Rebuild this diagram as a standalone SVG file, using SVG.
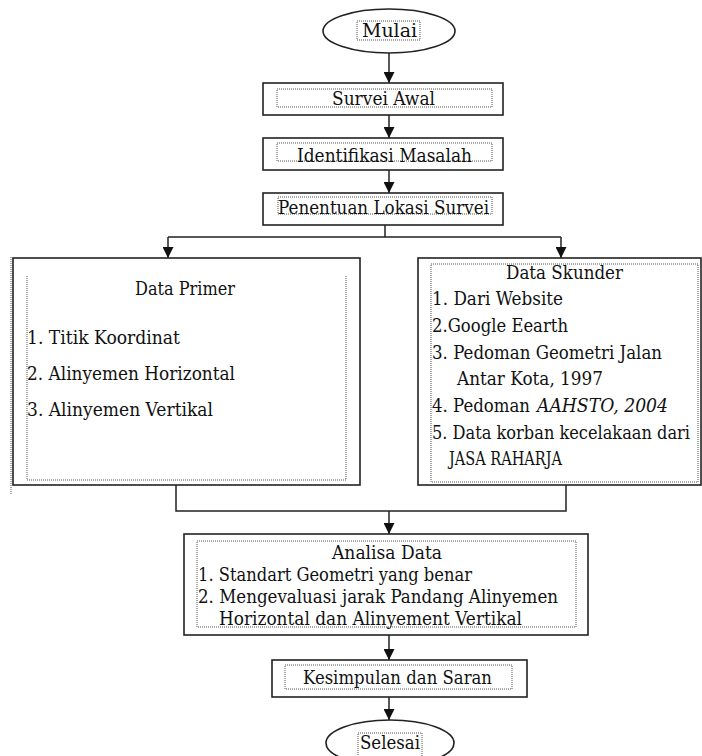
<svg xmlns="http://www.w3.org/2000/svg" width="702" height="756" viewBox="0 0 702 756">
<style>
.box{fill:#fff;stroke:#222;stroke-width:1.6}
.dot{fill:none;stroke:#555;stroke-width:1;stroke-dasharray:1 1}
.ln{fill:none;stroke:#222;stroke-width:1.5}
.t text{font-family:'DejaVu Serif','Liberation Serif',serif;font-size:19px;fill:#111}
.c{text-anchor:middle}
</style>
<defs>
<marker id="ah" viewBox="0 0 10 10" refX="10" refY="5" markerWidth="11" markerHeight="11" markerUnits="userSpaceOnUse" orient="auto">
<path d="M0,0 L10,5 L0,10 z" fill="#111"/>
</marker>
</defs>
<rect width="702" height="756" fill="#fff"/>
<g id="connectors">
<path class="ln" d="M389,53 V83" marker-end="url(#ah)"/>
<path class="ln" d="M389,115 V138" marker-end="url(#ah)"/>
<path class="ln" d="M389,170 V193" marker-end="url(#ah)"/>
<path class="ln" d="M385,225 V237 M168,237 H561"/>
<path class="ln" d="M168,237 V258" marker-end="url(#ah)"/>
<path class="ln" d="M561,237 V258" marker-end="url(#ah)"/>
<path class="ln" d="M176,485 V511 H566 V485"/>
<path class="ln" d="M389,511 V534" marker-end="url(#ah)"/>
<path class="ln" d="M389,635 V660" marker-end="url(#ah)"/>
<path class="ln" d="M389,697 V720" marker-end="url(#ah)"/>
</g>
<g id="mulai" class="t">
<ellipse class="box" cx="389" cy="31" rx="66" ry="22"/>
<rect class="dot" x="357" y="21" width="63" height="19"/>
<text class="c" x="389.5" y="37" textLength="55" lengthAdjust="spacingAndGlyphs">Mulai</text>
</g>
<g id="survei-awal" class="t">
<rect class="box" x="263" y="83" width="240" height="32"/>
<rect class="dot" x="277" y="89" width="215" height="18"/>
<text class="c" x="383.5" y="105" textLength="103" lengthAdjust="spacingAndGlyphs">Survei Awal</text>
</g>
<g id="identifikasi" class="t">
<rect class="box" x="263" y="138" width="240" height="32"/>
<rect class="dot" x="277" y="143" width="215" height="18"/>
<text class="c" x="384.5" y="162" textLength="175" lengthAdjust="spacingAndGlyphs">Identifikasi Masalah</text>
</g>
<g id="penentuan" class="t">
<rect class="box" x="263" y="193" width="240" height="32"/>
<rect class="dot" x="278" y="197" width="214" height="17"/>
<text class="c" x="383.5" y="214" textLength="211" lengthAdjust="spacingAndGlyphs">Penentuan Lokasi Survei</text>
</g>
<g id="data-primer" class="t">
<rect class="box" x="13" y="258" width="347" height="227"/>
<path class="dot" d="M11,257 V494" stroke-width="2"/>
<path class="dot" d="M27,276 V480 H346 V276"/>
<text class="c" x="185" y="295" textLength="100" lengthAdjust="spacingAndGlyphs">Data Primer</text>
<text x="27" y="344" textLength="153" lengthAdjust="spacingAndGlyphs">1. Titik Koordinat</text>
<text x="27" y="380" textLength="208" lengthAdjust="spacingAndGlyphs">2. Alinyemen Horizontal</text>
<text x="27" y="416" textLength="186" lengthAdjust="spacingAndGlyphs">3. Alinyemen Vertikal</text>
</g>
<g id="data-skunder" class="t">
<rect class="box" x="418" y="258" width="283" height="227"/>
<rect class="dot" x="431" y="264" width="267" height="218"/>
<text class="c" x="564.5" y="279" textLength="117" lengthAdjust="spacingAndGlyphs">Data Skunder</text>
<text x="432" y="305" textLength="131" lengthAdjust="spacingAndGlyphs">1. Dari Website</text>
<text x="432" y="332" textLength="136" lengthAdjust="spacingAndGlyphs">2.Google Eearth</text>
<text x="432" y="359" textLength="230" lengthAdjust="spacingAndGlyphs">3. Pedoman Geometri Jalan</text>
<text x="457" y="385" textLength="146" lengthAdjust="spacingAndGlyphs">Antar Kota, 1997</text>
<text x="432" y="412" textLength="98" lengthAdjust="spacingAndGlyphs">4. Pedoman</text>
<text x="537" y="412" textLength="131" lengthAdjust="spacingAndGlyphs" font-style="italic">AAHSTO, 2004</text>
<text x="432" y="439" textLength="258" lengthAdjust="spacingAndGlyphs">5. Data korban kecelakaan dari</text>
<text x="449" y="465" textLength="113" lengthAdjust="spacingAndGlyphs">JASA RAHARJA</text>
</g>
<g id="analisa-data" class="t">
<rect class="box" x="184" y="534" width="404" height="101"/>
<rect class="dot" x="197" y="541" width="379" height="86"/>
<text class="c" x="387" y="559" textLength="110" lengthAdjust="spacingAndGlyphs" style="font-size:18px">Analisa Data</text>
<text x="198" y="581" textLength="274" lengthAdjust="spacingAndGlyphs" style="font-size:18px">1. Standart Geometri yang benar</text>
<text x="198" y="603" textLength="360" lengthAdjust="spacingAndGlyphs" style="font-size:18px">2. Mengevaluasi  jarak Pandang Alinyemen</text>
<text x="219" y="625" textLength="303" lengthAdjust="spacingAndGlyphs" style="font-size:18px">Horizontal dan Alinyement Vertikal</text>
</g>
<g id="kesimpulan" class="t">
<rect class="box" x="272" y="660" width="255" height="37"/>
<rect class="dot" x="285" y="665" width="227" height="24"/>
<text class="c" x="397.5" y="684" textLength="189" lengthAdjust="spacingAndGlyphs">Kesimpulan dan Saran</text>
</g>
<g id="selesai" class="t">
<ellipse class="box" cx="390" cy="743" rx="64" ry="23"/>
<rect class="dot" x="358" y="733" width="64" height="26"/>
<text class="c" x="390" y="749" textLength="60" lengthAdjust="spacingAndGlyphs">Selesai</text>
</g>
</svg>
